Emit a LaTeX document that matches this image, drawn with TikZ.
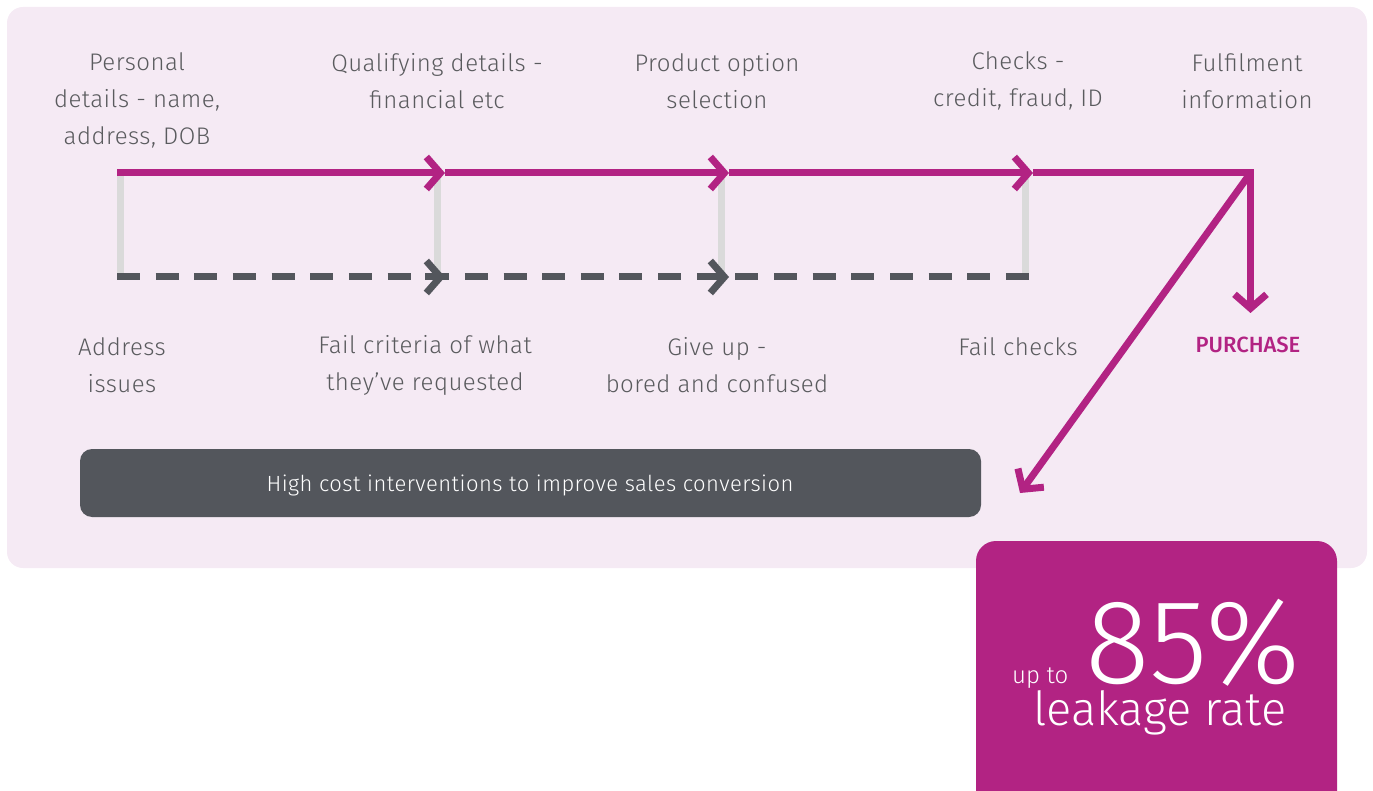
\documentclass[tikz,border=0pt]{standalone}
\usepackage{fontspec}
\setmainfont{Fira Sans}[UprightFont={* Light}, BoldFont={* Medium}]
\usetikzlibrary{arrows.meta}
\definecolor{mag}{HTML}{B22383}
\definecolor{dk}{HTML}{53565C}
\definecolor{lg}{HTML}{DADADA}
\definecolor{panel}{HTML}{F5EAF4}
\definecolor{txt}{HTML}{5A5B5E}
\tikzset{
  chev/.tip={Straight Barb[length=14pt,width=32pt]},
  magline/.style={draw=mag,line width=7pt,line join=miter},
  dashline/.style={draw=dk,line width=7pt,dash pattern=on 23pt off 15.65pt},
  greyline/.style={draw=lg,line width=7pt},
  lbl/.style={text=txt,font=\fontsize{24}{37}\selectfont\addfontfeatures{LetterSpace=2},align=center,inner sep=0pt},
}
\begin{document}
\begin{tikzpicture}[x=1pt,y=-1pt]
\useasboundingbox (0,0) rectangle (1373,791);
\clip (0,0) rectangle (1373,791);
\fill[panel, rounded corners=16pt] (7,7) rectangle (1367,568);

% coordinates
\coordinate (t0) at (117,173);
\coordinate (t1) at (445,173);
\coordinate (t2) at (729,173);
\coordinate (t3) at (1033,173);
\coordinate (t4) at (1250.5,173);
\coordinate (pur) at (1250.5,313);
\coordinate (leak) at (1020,493);
\coordinate (d0) at (117,277);
\coordinate (d1) at (445,277);
\coordinate (d2) at (729,277);
\coordinate (d3) at (1029,277);
\coordinate (g0a) at (120.5,173); \coordinate (g0b) at (120.5,277);
\coordinate (g1a) at (437.5,173); \coordinate (g1b) at (437.5,277);
\coordinate (g2a) at (721,173);   \coordinate (g2b) at (721,277);
\coordinate (g3a) at (1025.5,173);\coordinate (g3b) at (1025.5,277);

% grey verticals
\draw[greyline] (g0a) -- (g0b);
\draw[greyline] (g1a) -- (g1b);
\draw[greyline] (g2a) -- (g2b);
\draw[greyline] (g3a) -- (g3b);

% dashed line
\draw[dashline] (d0) -- (d3);
\draw[draw=dk,line width=7pt,-{chev}] ([xshift=-20pt]d1) -- (d1);
\draw[draw=dk,line width=7pt,-{chev}] ([xshift=-20pt]d2) -- (d2);

% magenta line
\draw[magline,-{chev}] (t0) -- (t1);
\draw[magline,-{chev}] (t1) -- (t2);
\draw[magline,-{chev}] (t2) -- (t3);
\draw[magline,-{chev}] (t3) -- (t4) -- (pur);
\draw[magline,-{chev}] (t4) -- (leak);

% top labels
\node[lbl] (l1) at (137,100) {Personal\\details - name,\\address, DOB};
\node[lbl] (l2) at (437,81) {Qualifying details -\\financial etc};
\node[lbl] (l3) at (717,81) {Product option\\selection};
\node[lbl] (l4) at (1018,81) {Checks -\\credit, fraud, ID};
\node[lbl] (l5) at (1247,81) {Fulfilment\\information};

% bottom labels
\node[lbl] (b1) at (122,365) {Address\\issues};
\node[lbl] (b2) at (425,365) {Fail criteria of what\\they’ve requested};
\node[lbl] (b3) at (717,365) {Give up -\\bored and confused};
\node[lbl] (b4) at (1018,347) {Fail checks};
\node[text=mag,font=\bfseries\fontsize{22}{24}\selectfont,inner sep=0pt] (pl) at (1248,345) {PURCHASE};

% dark box
\node[fill=dk,rounded corners=12pt,minimum width=901pt,minimum height=68pt,inner sep=0pt] (hc) at (530.5,483) {};
\node[text=white,font=\fontsize{22}{24}\selectfont\addfontfeatures{LetterSpace=2},inner sep=0pt] (hct) at (530,485) {High cost interventions to improve sales conversion};

% magenta box
\fill[mag, rounded corners=20pt] (976,541) rectangle (1337,830);
\node[anchor=base west,text=white,inner sep=0pt,font=\fontsize{24}{24}\selectfont] (up) at (1012,683) {up to};
\node[anchor=base west,text=white,inner sep=0pt,font=\fontsize{120}{120}\selectfont] (pc) at (1085,683) {85\%};
\node[anchor=base west,text=white,inner sep=0pt,font=\fontsize{47}{47}\selectfont] (lr) at (1033,725) {leakage rate};
\end{tikzpicture}
\end{document}
